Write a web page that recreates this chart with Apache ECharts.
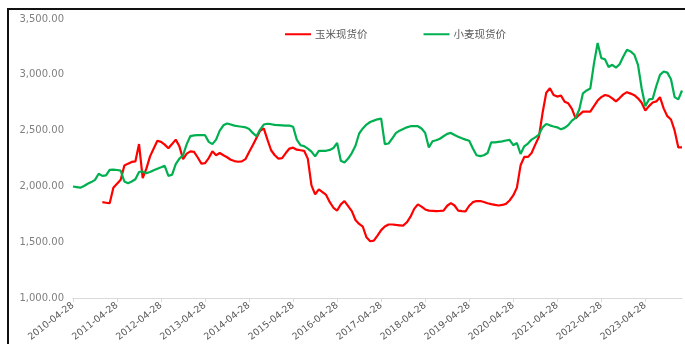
<!DOCTYPE html>
<html>
<head>
<meta charset="utf-8">
<script src="https://cdn.jsdelivr.net/npm/echarts@6/dist/echarts.min.js"></script>
<style>
html,body{margin:0;padding:0;background:#fff;}
#chart{width:685px;height:344px;position:absolute;left:0;top:0;}
#frame{position:absolute;left:7px;top:8px;width:700px;height:360px;border-left:2px solid #111;border-top:2px solid #111;pointer-events:none;}
</style>
</head>
<body>
<div id="chart"></div>
<div id="frame"></div>
<script>
// Monthly categories, 2010-04-28 .. 2024-02-28
const startYear = 2010, startMonth = 4, monthCount = 167;
const categories = [];
for (let i = 0; i < monthCount; i++) {
  const mAbs = startMonth - 1 + i;
  const y = startYear + Math.floor(mAbs / 12);
  const m = (mAbs % 12) + 1;
  categories.push(y + '-' + String(m).padStart(2, '0') + '-28');
}
const seriesNames = ['玉米现货价', '小麦现货价'];
const cornValues = [
  null,null,null,null,null,null,null,null,1860,1855,
  1850,1990,2025,2060,2188,2205,2220,2225,2380,2075,
  2160,2270,2340,2410,2400,2375,2342,2380,2420,2360,
  2245,2295,2315,2310,2260,2205,2210,2255,2315,2280,
  2300,2280,2262,2240,2228,2222,2225,2245,2310,2370,
  2435,2500,2520,2420,2325,2280,2250,2255,2300,2340,
  2348,2330,2325,2320,2250,2010,1930,1975,1950,1925,
  1860,1810,1785,1840,1870,1825,1780,1700,1665,1640,
  1545,1510,1515,1560,1610,1642,1660,1660,1656,1653,
  1650,1680,1730,1800,1840,1820,1795,1784,1782,1780,
  1782,1785,1828,1852,1830,1785,1780,1778,1828,1860,
  1870,1870,1862,1850,1842,1836,1830,1835,1845,1875,
  1920,1990,2190,2265,2265,2300,2375,2445,2660,2840,
  2880,2820,2805,2815,2760,2745,2695,2610,2642,2670,
  2670,2670,2720,2770,2800,2820,2812,2790,2762,2792,
  2825,2845,2832,2818,2790,2750,2680,2720,2752,2762,
  2800,2700,2630,2600,2500,2350,2350
];
const wheatValues = [
  2000,1995,1990,2005,2025,2040,2060,2115,2095,2100,
  2150,2152,2148,2142,2045,2030,2045,2065,2130,2135,
  2120,2130,2145,2160,2172,2185,2095,2105,2200,2250,
  2280,2380,2452,2458,2460,2460,2460,2400,2380,2420,
  2500,2548,2565,2555,2545,2540,2535,2530,2515,2480,
  2450,2510,2555,2562,2558,2552,2550,2548,2546,2545,
  2535,2420,2370,2362,2340,2312,2270,2320,2320,2320,
  2328,2345,2390,2230,2215,2250,2300,2365,2475,2520,
  2555,2578,2590,2602,2608,2380,2385,2430,2478,2500,
  2515,2530,2540,2540,2540,2520,2480,2350,2405,2415,
  2428,2450,2472,2480,2462,2445,2432,2420,2410,2340,
  2280,2272,2280,2300,2395,2395,2400,2405,2412,2418,
  2370,2390,2292,2360,2385,2420,2440,2465,2530,2560,
  2548,2538,2530,2512,2525,2550,2590,2615,2690,2835,
  2860,2878,3100,3285,3150,3140,3070,3090,3065,3095,
  3165,3225,3210,3180,3090,2880,2720,2780,2785,2900,
  3000,3030,3020,2960,2800,2780,2860
];
const yMin = 1000, yMax = 3500, yStep = 500;

const isLabelCat = (idx, val) => val.slice(5, 7) === '04';

const chart = echarts.init(document.getElementById('chart'), null, {renderer: 'canvas'});
chart.setOption({
  animation: false,
  backgroundColor: '#ffffff',
  legend: {
    top: 24,
    left: 280,
    itemWidth: 26,
    itemHeight: 2,
    itemGap: 56,
    icon: 'rect',
    textStyle: {color: '#595959', fontSize: 10.5, fontFamily: 'Noto Sans CJK SC', padding: [0, 0, 0, -1]},
    data: seriesNames
  },
  grid: {left: 73, right: 3, top: 19, bottom: 44, containLabel: false},
  xAxis: {
    type: 'category',
    data: categories,
    boundaryGap: false,
    axisLine: {show: true, lineStyle: {color: '#d9d9d9', width: 1}},
    axisTick: {show: true, interval: isLabelCat, length: 4, lineStyle: {color: '#d9d9d9'}},
    axisLabel: {
      interval: isLabelCat,
      rotate: 38,
      color: '#595959',
      fontSize: 9.5,
      fontFamily: 'DejaVu Sans',
      margin: 6
    },
    splitLine: {show: false}
  },
  yAxis: {
    type: 'value',
    min: yMin, max: yMax, interval: yStep,
    axisLine: {show: false},
    axisTick: {show: false},
    splitLine: {show: false},
    axisLabel: {
      color: '#7f7f7f',
      fontSize: 10,
      fontFamily: 'DejaVu Sans',
      margin: 9,
      formatter: v => v.toLocaleString('en-US', {minimumFractionDigits: 2, maximumFractionDigits: 2})
    }
  },
  series: [
    {
      name: seriesNames[0], type: 'line', data: cornValues,
      symbol: 'none', connectNulls: false,
      itemStyle: {color: '#ff0000'},
      lineStyle: {color: '#ff0000', width: 2.2}
    },
    {
      name: seriesNames[1], type: 'line', data: wheatValues,
      symbol: 'none',
      itemStyle: {color: '#00b050'},
      lineStyle: {color: '#00b050', width: 2.2}
    }
  ]
});
</script>
</body>
</html>
